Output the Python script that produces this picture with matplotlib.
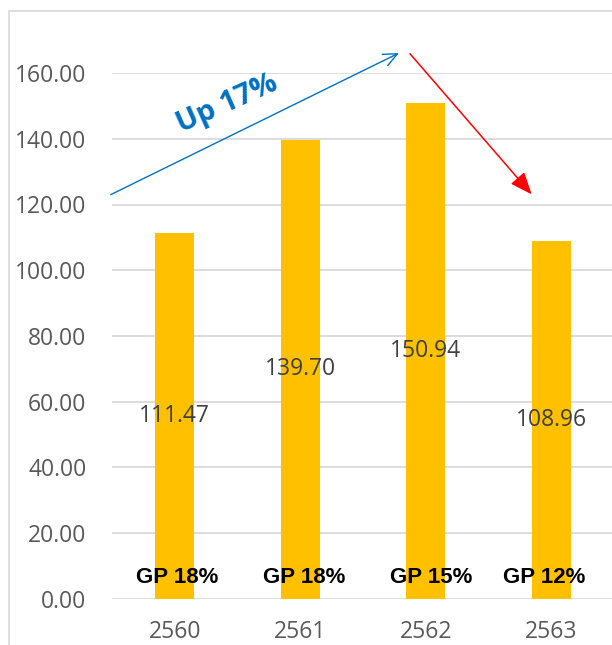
import numpy as np
import matplotlib.pyplot as plt
from matplotlib.patches import Rectangle

years = ["2560", "2561", "2562", "2563"]
values = [111.47, 139.70, 150.94, 108.96]
gp_labels = ["GP 18%", "GP 18%", "GP 15%", "GP 12%"]
yticks = [0, 20, 40, 60, 80, 100, 120, 140, 160]

fig = plt.figure(figsize=(6.12, 6.45), dpi=100)
ax = fig.add_axes([112 / 612, 46.3 / 645, 502.3 / 612, 525.6 / 645])

# outer chart border (light gray), runs off the right/bottom edge
fig.patches.append(Rectangle((9 / 612, -0.1), 1.2, (645 - 11) / 645 + 0.1,
                             transform=fig.transFigure, fill=False,
                             edgecolor="#d9d9d9", linewidth=1.2))

x = np.arange(len(years))
ax.bar(x, values, width=0.31, color="#FFC000", zorder=2)

ax.set_xlim(-0.5, 3.5)
ax.set_ylim(0, 160)
ax.set_yticks(yticks)
ax.set_yticklabels([f"{v:.2f}" for v in yticks])
ax.set_xticks(x)
ax.set_xticklabels(years)
ax.grid(axis="y", color="#d9d9d9", linewidth=1.3, zorder=0)
ax.set_axisbelow(True)
for s in ax.spines.values():
    s.set_visible(False)
ax.tick_params(axis="both", length=0, labelcolor="#595959", labelsize=16.5)
ax.tick_params(axis="y", pad=18.5)
ax.tick_params(axis="x", pad=15.5)
for lab in ax.get_xticklabels() + ax.get_yticklabels():
    lab.set_family("Open Sans")

# value labels at the middle of each bar
for xi, v in zip(x, values):
    ax.text(xi, v / 2, f"{v:.2f}", ha="center", va="center",
            fontsize=16.5, color="#404040", family="Open Sans", zorder=3)

# GP text boxes near the bottom
gp_dx = [0.02, 0.03, 0.045, -0.055]
for xi, dx, t in zip(x, gp_dx, gp_labels):
    ax.text(xi + dx, 6.4, t, ha="center", va="center", fontsize=16,
            fontweight="bold", color="black", family="Liberation Sans", zorder=3)

# trend arrows
ax.annotate("", xy=(1.785, 166.1), xytext=(-0.51, 123.0),
            arrowprops=dict(arrowstyle="->,head_length=1.0,head_width=0.45",
                            color="#0070C0", linewidth=1.0, shrinkA=0, shrinkB=0),
            annotation_clip=False)
ax.text(0.415, 150.6, "Up 17%", rotation=24, ha="center", va="center",
        fontsize=21, fontweight="bold", color="#0070C0", family="Open Sans")
ax.annotate("", xy=(2.842, 123.1), xytext=(1.873, 165.9),
            arrowprops=dict(arrowstyle="-|>,head_length=1.35,head_width=0.55",
                            color="#FF0000", linewidth=1.1, shrinkA=0, shrinkB=0),
            annotation_clip=False)

plt.savefig("out.png", dpi=100)
